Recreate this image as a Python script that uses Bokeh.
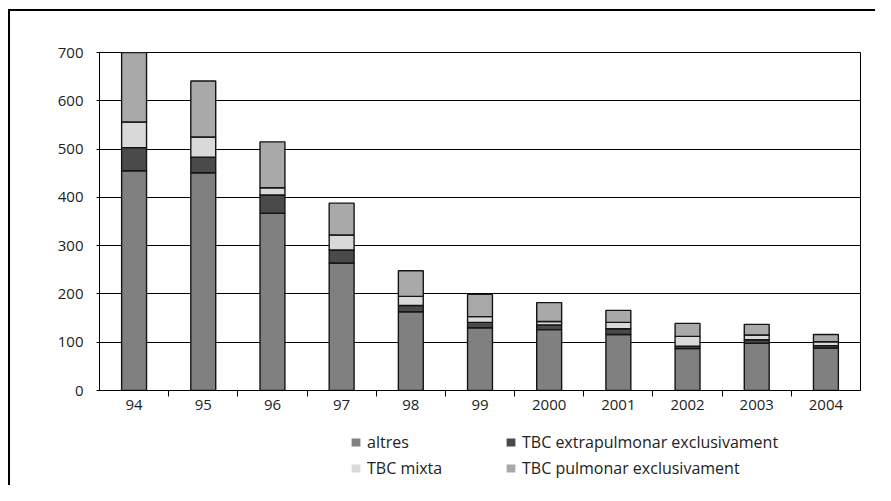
from bokeh.plotting import figure
from bokeh.layouts import column
from bokeh.models import ColumnDataSource, FixedTicker, Legend, LegendItem, Range1d
from bokeh.embed import file_html
from bokeh.resources import INLINE

years = ["94", "95", "96", "97", "98", "99", "2000", "2001", "2002", "2003", "2004"]
altres = [455, 451, 367, 264, 163, 130, 126, 116, 87, 98, 88]
extrapulmonar = [48, 32, 38, 27, 13, 11, 10, 12, 5, 7, 5]
mixta = [53, 42, 15, 31, 19, 12, 7, 13, 20, 10, 8]
pulmonar = [144, 116, 95, 66, 53, 46, 39, 25, 27, 22, 15]

series = ["altres", "extrapulmonar", "mixta", "pulmonar"]
labels = ["altres", "TBC extrapulmonar exclusivament", "TBC mixta", "TBC pulmonar exclusivament"]
colors = ["#808080", "#4a4a4a", "#d9d9d9", "#a9a9a9"]
y_ticks = [0, 100, 200, 300, 400, 500, 600, 700]

n = len(years)
centers = [i + 0.5 for i in range(n)]
bounds = [i for i in range(1, n)]

source = ColumnDataSource(dict(x=centers, altres=altres, extrapulmonar=extrapulmonar,
                               mixta=mixta, pulmonar=pulmonar))

FONT = "Open Sans"
TXT = "#222222"

p = figure(width=875, height=425, output_backend="svg", toolbar_location=None,
           x_range=Range1d(0, n), y_range=Range1d(0, 700),
           min_border_left=99, min_border_top=52, min_border_right=15, min_border_bottom=35)
p.border_fill_alpha = 0

renderers = p.vbar_stack(series, x="x", width=0.36, source=source, fill_color=colors,
                         line_color="#151515", line_width=1.4)

p.outline_line_color = "black"
p.outline_line_width = 1
p.background_fill_color = "white"

p.xgrid.grid_line_color = None
p.ygrid.grid_line_color = "black"
p.ygrid.grid_line_width = 1
p.ygrid.ticker = FixedTicker(ticks=y_ticks)

p.yaxis.ticker = FixedTicker(ticks=y_ticks)
p.yaxis.axis_line_color = "black"
p.yaxis.major_tick_in = 0
p.yaxis.major_tick_out = 3
p.yaxis.major_tick_line_color = "black"
p.yaxis.minor_tick_line_color = None
p.yaxis.major_label_standoff = 13
p.yaxis.major_label_text_font = FONT
p.yaxis.major_label_text_font_size = "15px"
p.yaxis.major_label_text_color = TXT

p.xaxis.ticker = FixedTicker(ticks=centers, minor_ticks=bounds)
p.xaxis.major_label_overrides = {c: y for c, y in zip(centers, years)}
p.xaxis.axis_line_color = "black"
p.xaxis.major_tick_line_color = None
p.xaxis.major_tick_in = 0
p.xaxis.major_tick_out = 0
p.xaxis.minor_tick_line_color = "black"
p.xaxis.minor_tick_in = 0
p.xaxis.minor_tick_out = 6
p.xaxis.major_label_standoff = 3
p.xaxis.major_label_text_font = FONT
p.xaxis.major_label_text_font_size = "15px"
p.xaxis.major_label_text_color = TXT

# legend in its own small figure below the chart (its glyph renderers sit out of view)
pl = figure(width=875, height=60, output_backend="svg", toolbar_location=None,
            x_range=Range1d(1000, 1001), y_range=Range1d(1000, 1001),
            x_axis_location=None, y_axis_location=None,
            min_border_left=0, min_border_right=0, min_border_top=0, min_border_bottom=0)
pl.outline_line_color = None
pl.border_fill_alpha = 0
pl.background_fill_alpha = 0
for g in pl.grid:
    g.visible = False

leg_r = pl.vbar_stack(series, x="x", width=0.36, source=source, fill_color=colors,
                      line_color=None)
items = [LegendItem(label=labels[i], renderers=[leg_r[i]]) for i in range(4)]
legend = Legend(items=items, location=(251, 6), orientation="horizontal", ncols=2,
                glyph_width=11, glyph_height=10, label_standoff=6, label_width=134,
                label_height=16, spacing=4, padding=0, margin=0,
                border_line_color=None, background_fill_alpha=0,
                label_text_font=FONT, label_text_font_size="16px", label_text_color=TXT)
pl.add_layout(legend, "center")

layout = column(p, pl, spacing=0)
layout.styles = {
    "background": "linear-gradient(#000,#000) 8px 9px / 2px 100% no-repeat, "
                  "linear-gradient(#000,#000) 8px 9px / 100% 2px no-repeat, #fff"
}

open("out.html", "w").write(file_html(layout, INLINE))
